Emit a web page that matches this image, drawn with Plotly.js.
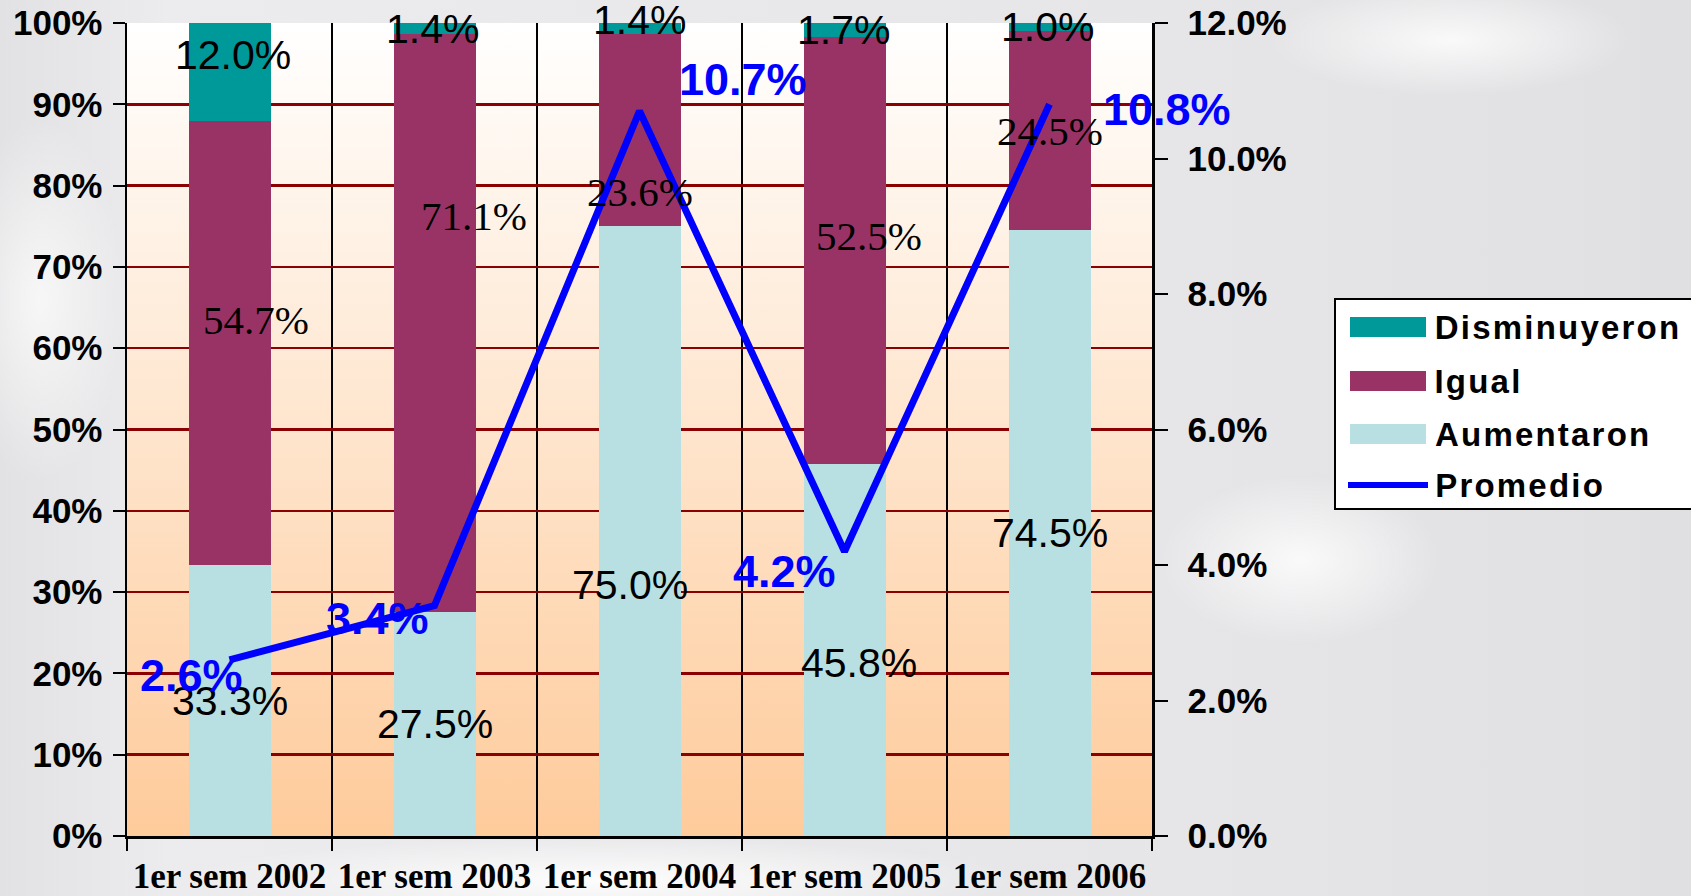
<!DOCTYPE html>
<html><head><meta charset="utf-8">
<script src="https://cdn.plot.ly/plotly-3.0.1.min.js"></script>
<style>
html,body{margin:0;padding:0;width:1691px;height:896px;overflow:hidden;}
body{
  background:
    radial-gradient(ellipse 120px 260px at 40px 300px, rgba(255,255,255,0.7), rgba(255,255,255,0) 70%),
    radial-gradient(ellipse 200px 120px at 1300px 560px, rgba(255,255,255,0.8), rgba(255,255,255,0) 70%),
    radial-gradient(ellipse 260px 80px at 1450px 40px, rgba(255,255,255,0.8), rgba(255,255,255,0) 70%),
    radial-gradient(ellipse 600px 60px at 600px 880px, rgba(255,255,255,0.9), rgba(255,255,255,0) 70%),
    linear-gradient(90deg, #e2e2e4 0%, #ececee 10%, #e6e6e8 70%, #e0e0e3 100%);
}
#chart{width:1691px;height:896px;}
.annotation[data-index="20"] text, .annotation[data-index="21"] text,
.annotation[data-index="22"] text, .annotation[data-index="23"] text { letter-spacing: 2.2px; }
</style></head><body><div id="chart"></div><script>
// ---- data ----
const categories = ['1er sem 2002','1er sem 2003','1er sem 2004','1er sem 2005','1er sem 2006'];
const aumentaron = [33.3, 27.5, 75.0, 45.8, 74.5];
const igual = [54.7, 71.1, 23.6, 52.5, 24.5];
const disminuyeron = [12.0, 1.4, 1.4, 1.7, 1.0];
const promedio = [2.6, 3.4, 10.7, 4.2, 10.8];
const seriesNames = ['Disminuyeron', 'Igual', 'Aumentaron', 'Promedio'];
const yTickVals = [0,10,20,30,40,50,60,70,80,90,100];
const y2TickVals = [0,2,4,6,8,10,12];

// ---- styles ----
const colDism = '#009999', colIgual = '#993366', colAum = '#B8DFE2', colProm = '#0000FF';
const ARIAL = 'Liberation Sans, Arial, sans-serif';
const TIMES = 'Liberation Serif, Times New Roman, serif';
// label nudges in pixels [xshift, yshift]
const aumShift = [[0,0],[0,0],[-10,-54],[14,-13],[0,0]];
const igualShift = [[26,23],[39,107],[0,-62],[24,14],[0,0]];
const dismShift = [[3,17],[-2,0],[0,9],[-1,0],[-2,0]];
const promShift = [[-38,-16],[-57,-13],[103,32],[-60,-20],[117,-5]];
const LEG_SPACING = 2.2;

const W = 1691, H = 896;
const M = {l:127, r:539, t:23, b:60};
const PW = W - M.l - M.r, PH = H - M.t - M.b;
const px2x = p => (p - M.l) / PW;
const py2y = p => (H - M.b - p) / PH;

const fmt = v => v.toFixed(1) + '%';

const traces = [
  {type:'bar', name:seriesNames[2], x:categories, y:aumentaron, marker:{color:colAum}, hoverinfo:'skip', showlegend:false},
  {type:'bar', name:seriesNames[1], x:categories, y:igual, marker:{color:colIgual}, hoverinfo:'skip', showlegend:false},
  {type:'bar', name:seriesNames[0], x:categories, y:disminuyeron, marker:{color:colDism}, hoverinfo:'skip', showlegend:false},
  {type:'scatter', mode:'lines', name:seriesNames[3], x:categories, y:promedio, yaxis:'y2',
   line:{color:colProm, width:7}, hoverinfo:'skip', showlegend:false}
];

const annotations = [];
categories.forEach((c, i) => {
  const a = aumentaron[i], g = igual[i], d = disminuyeron[i];
  annotations.push({x:c, y:a/2, xref:'x', yref:'y', text:fmt(a), showarrow:false,
    xshift:aumShift[i][0], yshift:aumShift[i][1], font:{family:ARIAL, size:41, color:'#000'}});
  annotations.push({x:c, y:a + g/2, xref:'x', yref:'y', text:fmt(g), showarrow:false,
    xshift:igualShift[i][0], yshift:igualShift[i][1], font:{family:TIMES, size:41, color:'#000'}});
  annotations.push({x:c, y:a + g + d/2, xref:'x', yref:'y', text:fmt(d), showarrow:false,
    xshift:dismShift[i][0], yshift:dismShift[i][1], font:{family:ARIAL, size:41, color:'#000'}});
  annotations.push({x:c, y:promedio[i], xref:'x', yref:'y2', text:'<b>' + fmt(promedio[i]) + '</b>', showarrow:false,
    xshift:promShift[i][0], yshift:promShift[i][1], font:{family:ARIAL, size:45, color:colProm}});
});

// custom legend (large swatches like the original)
const shapes = [];
shapes.push({type:'rect', xref:'paper', yref:'paper', x0:px2x(1335), x1:px2x(1705), y0:py2y(509), y1:py2y(299),
  line:{color:'#000', width:2}, fillcolor:'#FFFFFF', layer:'above'});
const legRows = [327, 381, 434, 485];
const legCols = [colDism, colIgual, colAum];
legCols.forEach((col, k) => {
  shapes.push({type:'rect', xref:'paper', yref:'paper', x0:px2x(1350), x1:px2x(1426),
    y0:py2y(legRows[k] + 10), y1:py2y(legRows[k] - 10), line:{width:0}, fillcolor:col, layer:'above'});
});
shapes.push({type:'line', xref:'paper', yref:'paper', x0:px2x(1348), x1:px2x(1428),
  y0:py2y(legRows[3]), y1:py2y(legRows[3]), line:{color:colProm, width:6}, layer:'above'});
seriesNames.forEach((n, k) => {
  annotations.push({xref:'paper', yref:'paper', x:px2x(1434), y:py2y(legRows[k]), xanchor:'left', yanchor:'middle',
    xshift: LEG_SPACING * (n.length - 1) / 2,
    text:'<b>' + n + '</b>', showarrow:false, font:{family:ARIAL, size:33, color:'#000'}});
});

const gradSvg = "<svg xmlns='http://www.w3.org/2000/svg' width='100' height='100' preserveAspectRatio='none'>" +
  "<defs><linearGradient id='g' x1='0' y1='0' x2='0' y2='1'>" +
  "<stop offset='0' stop-color='#FFFFFF'/><stop offset='1' stop-color='#FECB9B'/></linearGradient></defs>" +
  "<rect width='100' height='100' fill='url(#g)'/></svg>";

const layout = {
  width: W, height: H,
  margin: M,
  paper_bgcolor: 'rgba(0,0,0,0)',
  plot_bgcolor: 'rgba(0,0,0,0)',
  barmode: 'stack',
  bargap: 0.6,
  showlegend: false,
  images: [{source: 'data:image/svg+xml;charset=utf-8,' + encodeURIComponent(gradSvg),
    xref:'paper', yref:'paper', x:0, y:1, sizex:1, sizey:1, sizing:'stretch',
    xanchor:'left', yanchor:'top', layer:'below'}],
  xaxis: {
    type:'category', range:[-0.5, categories.length - 0.5], autorange:false,
    tickson:'boundaries', ticks:'outside', ticklen:12, tickwidth:2, tickcolor:'#000',
    tickangle:0, automargin:false,
    showgrid:true, gridcolor:'#000', gridwidth:2,
    showline:true, linecolor:'#000', linewidth:3,
    tickfont:{family:TIMES, size:35, color:'#000', weight:'bold'},
    ticklabelstandoff: 7
  },
  yaxis: {
    range:[0,100], autorange:false, tickvals:yTickVals, ticktext:yTickVals.map(v => v + '%'),
    ticks:'outside', ticklen:12, tickwidth:2, tickcolor:'#000', automargin:false,
    showgrid:true, gridcolor:'#8B0000', gridwidth:2.5, zeroline:false,
    showline:true, linecolor:'#000', linewidth:2.5,
    tickfont:{family:ARIAL, size:35, color:'#000', weight:'bold'},
    ticklabelstandoff: 3
  },
  yaxis2: {
    overlaying:'y', side:'right', range:[0,12], autorange:false, tickvals:y2TickVals, ticktext:y2TickVals.map(v => v.toFixed(1) + '%'),
    ticks:'outside', ticklen:13, tickwidth:2, tickcolor:'#000', automargin:false,
    showgrid:false, zeroline:false,
    showline:true, linecolor:'#000', linewidth:2.5,
    tickfont:{family:ARIAL, size:35, color:'#000', weight:'bold'},
    ticklabelstandoff: 13
  },
  annotations: annotations,
  shapes: shapes
};

Plotly.newPlot('chart', traces, layout, {staticPlot:true});
</script></body></html>
